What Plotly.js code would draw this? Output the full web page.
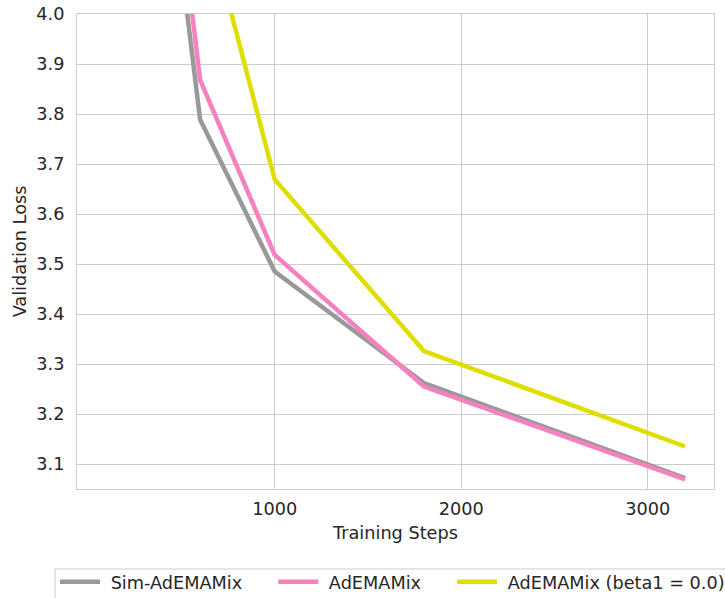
<!DOCTYPE html>
<html>
<head>
<meta charset="utf-8">
<script src="https://cdn.plot.ly/plotly-3.0.1.min.js"></script>
<style>html,body{margin:0;padding:0;background:#fff;}#chart{width:725px;height:598px;}</style>
</head>
<body>
<div id="chart"></div>
<script>
const steps = [100, 600, 1000, 1800, 3200];
const simAdemamix = [5.32, 3.789, 3.485, 3.262, 3.072];
const ademamix = [5.44, 3.868, 3.518, 3.255, 3.069];
const ademamixBeta0 = [5.60, 4.24, 3.669, 3.326, 3.135];
const seriesNames = ['Sim-AdEMAMix', 'AdEMAMix', 'AdEMAMix (beta1 = 0.0)'];
const seriesColors = ['#999999', '#f781bf', '#dede00'];
const xTicks = [1000, 2000, 3000];
const yTicks = [3.1, 3.2, 3.3, 3.4, 3.5, 3.6, 3.7, 3.8, 3.9, 4.0];

const pad = '\u00a0';
const series = [simAdemamix, ademamix, ademamixBeta0];
const traces = series.map((ys, i) => ({
  x: steps, y: ys, type: 'scatter', mode: 'lines',
  name: pad + seriesNames[i] + pad.repeat(4) + '\u2009',
  line: {color: seriesColors[i], width: 4.5}
}));

const font = {family: 'DejaVu Sans, sans-serif', size: 17.7, color: '#262626'};
const layout = {
  width: 725, height: 598,
  margin: {l: 77, r: 11, t: 14, b: 109, autoexpand: false},
  paper_bgcolor: '#ffffff', plot_bgcolor: '#ffffff',
  font: font,
  showlegend: true,
  xaxis: {
    range: [-60, 3355], tickvals: xTicks, ticktext: xTicks.map(String),
    showgrid: true, gridcolor: '#cccccc', gridwidth: 1,
    showline: true, linecolor: '#cccccc', linewidth: 1, mirror: true,
    zeroline: false, ticks: '', ticklabelstandoff: 4, automargin: false,
    title: {text: 'Training Steps', font: font, standoff: 8}
  },
  yaxis: {
    range: [3.05, 4.0], tickvals: yTicks, ticktext: yTicks.map(v => v.toFixed(1)),
    showgrid: true, gridcolor: '#cccccc', gridwidth: 1,
    showline: true, linecolor: '#cccccc', linewidth: 1, mirror: true,
    zeroline: false, ticks: '', ticklabelstandoff: 8, automargin: false,
    title: {text: 'Validation Loss', font: font, standoff: 5}
  },
  shapes: [{
    type: 'rect', xref: 'paper', yref: 'paper', layer: 'above',
    x0: -0.0345, x1: 1.03, y0: -0.1684, y1: -0.24,
    line: {color: '#cccccc', width: 1}, fillcolor: '#ffffff'
  }],
  legend: {
    orientation: 'h', x: -0.0345, xanchor: 'left', y: -0.1573, yanchor: 'top',
    bgcolor: 'rgba(0,0,0,0)', borderwidth: 0,
    font: font, traceorder: 'normal', itemwidth: 40
  }
};
Plotly.newPlot('chart', traces, layout, {displayModeBar: false, staticPlot: true});
</script>
</body>
</html>
